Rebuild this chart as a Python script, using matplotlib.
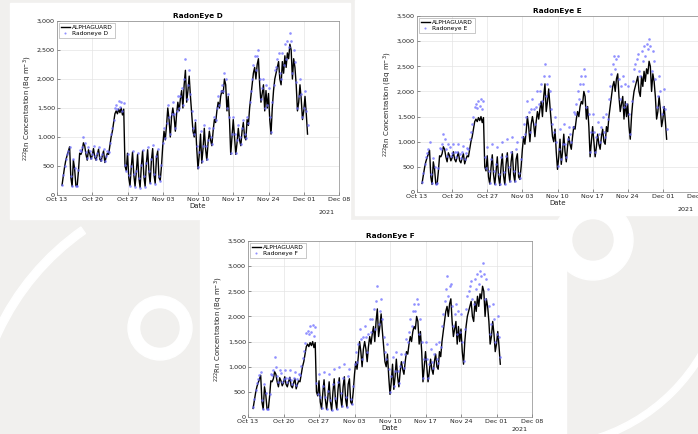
import numpy as np
import pandas as pd
import matplotlib
matplotlib.use('Agg')
import matplotlib.pyplot as plt
import matplotlib.dates as mdates
from matplotlib.patches import Rectangle, Circle, Wedge
from matplotlib.ticker import FuncFormatter

# 6-hourly readings from Oct 14 00:00, one row per day (00, 06, 12, 18 h)
alphaguard = [
    170, 330, 480, 600,   680, 750, 830, 300,   150, 600, 450, 160,
    150, 400, 720, 700,   760, 900, 850, 700,   600, 780, 720, 620,
    680, 800, 650, 600,   700, 790, 620, 580,   680, 760, 560, 650,
    720, 700, 850, 1000,  1100, 1250, 1400, 1450, 1400, 1480, 1420, 1500,
    1380, 1480, 500, 420, 720, 300, 160, 480,   740, 350, 150, 400,
    700, 300, 130, 500,   760, 320, 150, 550,   780, 400, 200, 600,
    800, 350, 200, 650,   760, 300, 250, 500,   850, 1100, 950, 1200,
    1500, 1300, 1000, 1350, 1500, 1350, 1100, 1400, 1600, 1450, 1650, 1800,
    1500, 1900, 2150, 1600, 1800, 2050, 1700, 1400, 1100, 1000, 1250, 800,
    450, 700, 1050, 550,  800, 1150, 800, 600,  900, 1100, 950, 850,
    1100, 1300, 1250, 1450, 1600, 1500, 1700, 1800, 1750, 2000, 1900, 1450,
    1700, 1300, 700, 1000, 1300, 1000, 700, 900, 1150, 950, 850, 1100,
    1250, 1000, 950, 1300, 1200, 1500, 1700, 1900, 2100, 2200, 2000, 2250,
    2350, 1900, 1600, 1750, 1900, 1450, 1800, 1500, 1750, 1300, 1050, 1500,
    1800, 2000, 2100, 2200, 2300, 2000, 1900, 2300, 2100, 2400, 2200, 2450,
    2350, 2600, 2500, 2000, 2350, 2200, 1900, 1450, 1600, 1900, 1650, 1300,
    1450, 1700, 1400, 1050,
]

radoneye_d = [
    180, 340, 500, 620,   700, 760, 820, 320,   160, 620, 470, 150,
    160, 430, 780, 760,   820, 1000, 900, 740,  640, 820, 760, 640,
    700, 840, 680, 620,   720, 820, 650, 600,   700, 800, 580, 680,
    760, 740, 900, 1050,  1150, 1300, 1500, 1550, 1480, 1620, 1520, 1600,
    1450, 1580, 520, 420, 700, 340, 160, 500,   760, 360, 140, 420,
    720, 300, 120, 520,   780, 330, 140, 560,   820, 420, 200, 620,
    860, 360, 190, 680,   800, 320, 240, 520,   900, 1150, 980, 1250,
    1550, 1350, 1050, 1400, 1600, 1400, 1150, 1450, 1700, 1500, 1700, 1850,
    1550, 2000, 2350, 1650, 1900, 2150, 1750, 1450, 1150, 1050, 1300, 850,
    480, 750, 1100, 580,  850, 1200, 850, 620,  950, 1150, 1000, 880,
    1150, 1350, 1300, 1500, 1700, 1550, 1800, 1900, 1800, 2100, 2000, 1500,
    1750, 1350, 720, 1050, 1350, 1050, 720, 950, 1200, 1000, 880, 1150,
    1300, 1050, 980, 1350, 1250, 1600, 1800, 2000, 2250, 2400, 2150, 2400,
    2500, 2000, 1650, 1850, 2000, 1500, 1900, 1550, 1850, 1350, 1080, 1600,
    1900, 2150, 2200, 2350, 2450, 2100, 2000, 2450, 2250, 2600, 2350, 2650,
    2550, 2800, 2650, 2100, 2500, 2300, 1950, 1500, 1700, 2000, 1750, 1350,
    1500, 1800, 1450, 1200,
]

radoneye_e = [
    200, 380, 560, 700,   780, 850, 1000, 350,  170, 680, 500, 160,
    170, 480, 880, 860,   950, 1150, 1050, 850, 720, 950, 900, 720,
    780, 960, 800, 700,   800, 950, 760, 680,   790, 920, 660, 780,
    880, 860, 1050, 1200, 1350, 1500, 1700, 1750, 1680, 1800, 1720, 1850,
    1650, 1800, 700, 480, 900, 420, 180, 650,   950, 420, 160, 550,
    900, 360, 150, 700,   1000, 400, 160, 720,  1050, 500, 220, 800,
    1100, 420, 210, 850,  1000, 380, 270, 650,  1100, 1350, 1150, 1500,
    1800, 1600, 1200, 1650, 1850, 1650, 1350, 1700, 2000, 1750, 2000, 2150,
    1800, 2300, 2550, 1900, 2150, 2300, 2000, 1650, 1350, 1200, 1500, 1000,
    520, 850, 1250, 650,  950, 1350, 950, 700,  1050, 1300, 1150, 1000,
    1300, 1600, 1550, 1750, 2000, 1850, 2150, 2300, 2150, 2450, 2300, 1700,
    2000, 1550, 800, 1200, 1550, 1200, 800, 1100, 1400, 1150, 1000, 1300,
    1500, 1200, 1100, 1550, 1450, 1850, 2100, 2350, 2550, 2700, 2450, 2650,
    2700, 2250, 1850, 2100, 2300, 1700, 2150, 1750, 2100, 1550, 1150, 1800,
    2200, 2450, 2550, 2650, 2750, 2400, 2300, 2800, 2600, 2900, 2700, 2950,
    2850, 3050, 2900, 2400, 2800, 2600, 2250, 1700, 1900, 2300, 2000, 1550,
    1700, 2050, 1650, 1250,
]

radoneye_f = [
    190, 360, 540, 680,   760, 830, 900, 330,   160, 660, 480, 150,
    160, 460, 860, 840,   930, 1200, 1000, 820, 700, 930, 880, 700,
    760, 940, 780, 690,   780, 930, 740, 660,   770, 900, 640, 760,
    860, 840, 1020, 1180, 1320, 1480, 1680, 1720, 1650, 1800, 1700, 1830,
    1620, 1780, 680, 460, 850, 400, 170, 620,   900, 400, 150, 520,
    860, 340, 140, 660,   950, 380, 150, 700,   1000, 480, 210, 780,
    1050, 400, 200, 820,  950, 360, 260, 620,   1050, 1300, 1100, 1450,
    1750, 1550, 1150, 1600, 1800, 1600, 1300, 1650, 1950, 1700, 1950, 2150,
    1750, 2300, 2600, 1850, 2100, 2350, 1950, 1600, 1300, 1150, 1450, 950,
    500, 820, 1200, 620,  920, 1300, 920, 680,  1020, 1250, 1100, 980,
    1250, 1550, 1500, 1700, 1950, 1800, 2100, 2250, 2100, 2350, 2250, 1650,
    1950, 1500, 780, 1150, 1500, 1150, 780, 1050, 1350, 1100, 980, 1250,
    1450, 1150, 1080, 1500, 1400, 1800, 2050, 2300, 2550, 2800, 2400, 2600,
    2650, 2200, 1800, 2050, 2250, 1650, 2100, 1700, 2050, 1500, 1120, 1750,
    2150, 2400, 2500, 2600, 2700, 2350, 2250, 2750, 2550, 2850, 2650, 2900,
    2800, 3070, 2850, 2350, 2750, 2550, 2200, 1650, 1850, 2250, 1950, 1500,
    1650, 2000, 1600, 1200,
]

times = pd.date_range('2021-10-14 00:00', periods=len(alphaguard), freq='6h')

panels = [
    ('RadonEye D', 'Radoneye D', radoneye_d, 3000, [57, 21, 339, 195], -11),
    ('RadonEye E', 'Radoneye E', radoneye_e, 3500, [417, 16, 698, 192], -11),
    ('RadonEye F', 'Radoneye F', radoneye_f, 3500, [248, 241, 532, 417], -7.5),
]

W, H = 698, 434
BG = '#f1f0ee'
fig = plt.figure(figsize=(W / 100, H / 100), dpi=100)
fig.patch.set_facecolor(BG)
inch = fig.dpi_scale_trans


def pt(x, y):
    # pixel position from top-left -> inches from bottom-left
    return (x / 100, (H - y) / 100)


# faint watermark shapes in the background
fig.patches.append(Wedge(pt(230, 440), 2.6, 125, 185, width=0.08,
                         transform=inch, color='white', zorder=-3))
fig.patches.append(Circle(pt(160, 328), 0.32, transform=inch, color='white', zorder=-3))
fig.patches.append(Circle(pt(160, 328), 0.19, transform=inch, color=BG, zorder=-3))
fig.patches.append(Circle(pt(593, 240), 0.40, transform=inch, color='white', zorder=-3))
fig.patches.append(Circle(pt(593, 240), 0.20, transform=inch, color=BG, zorder=-3))
fig.patches.append(Wedge(pt(540, 260), 1.9, 285, 345, width=0.06,
                         transform=inch, color='white', zorder=-3))

# white boxes behind each panel
for x0, y0, x1, y1 in [(10, 3, 350, 219), (355, 0, 698, 215), (200, 220, 566, 434)]:
    fig.patches.append(Rectangle(pt(x0, y1), (x1 - x0) / 100, (y1 - y0) / 100,
                                 transform=inch, color='white', zorder=-2))

for title, label, series, ymax, (x0, y0, x1, y1), yr_off in panels:
    ax = fig.add_axes([x0 / W, 1 - y1 / H, (x1 - x0) / W, (y1 - y0) / H])
    ax.plot(times, alphaguard, color='black', lw=1.0, label='ALPHAGUARD', zorder=3)
    ax.scatter(times, series, s=3.5, color='#6b6bff', alpha=0.75, linewidths=0,
               label=label, zorder=4)
    ax.set_xlim(pd.Timestamp('2021-10-13'), pd.Timestamp('2021-12-08'))
    ax.set_ylim(0, ymax)
    ax.set_yticks(np.arange(0, ymax + 1, 500))
    ax.yaxis.set_major_formatter(FuncFormatter(lambda v, p: f'{v:,.0f}'))
    ax.set_xticks(pd.date_range('2021-10-13', '2021-12-08', freq='7D'))
    ax.xaxis.set_major_formatter(mdates.DateFormatter('%b %d'))
    ax.tick_params(direction='in', length=2, width=0.4, labelsize=4.6,
                   color='#444444', labelcolor='#222222', pad=1.5)
    ax.grid(True, color='#e4e4e4', lw=0.5)
    ax.set_axisbelow(True)
    for sp in ax.spines.values():
        sp.set_linewidth(0.5)
        sp.set_color('#888888')
    ax.set_title(title, fontsize=5.3, fontweight='bold', pad=2)
    ax.set_xlabel('Date', fontsize=5, labelpad=1, color='#222222')
    ax.set_ylabel('$^{222}$Rn Concentration (Bq m$^{-3}$)', fontsize=5,
                  labelpad=2, color='#222222')
    ax.annotate('2021', xy=(1, 0), xycoords='axes fraction', xytext=(-9, yr_off),
                textcoords='offset points', ha='center', va='top', fontsize=4.6,
                color='#222222')
    leg = ax.legend(loc='upper left', fontsize=4.2, frameon=True, fancybox=False,
                    borderpad=0.3, handlelength=1.6, handletextpad=0.4,
                    labelspacing=0.2, borderaxespad=0.3, markerscale=0.8)
    leg.get_frame().set_linewidth(0.4)
    leg.get_frame().set_edgecolor('#888888')

fig.savefig('out.png', dpi=100, facecolor=fig.get_facecolor())
